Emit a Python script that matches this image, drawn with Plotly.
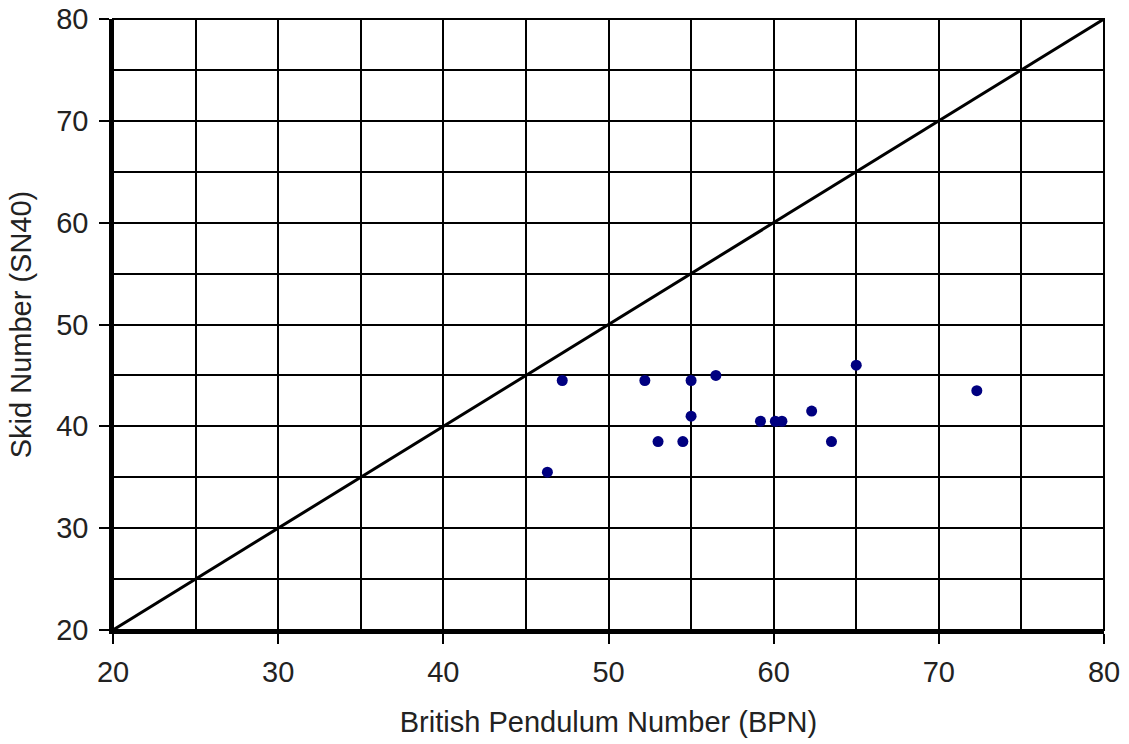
import plotly.graph_objects as go

bpn = [47.2, 52.2, 55.0, 56.5, 65.0, 55.0, 59.2, 60.1, 60.5, 62.3, 53.0, 54.5, 63.5, 46.3, 72.3]
sn40 = [44.5, 44.5, 44.5, 45.0, 46.0, 41.0, 40.5, 40.5, 40.5, 41.5, 38.5, 38.5, 38.5, 35.5, 43.5]
equality_x = [20, 80]
equality_y = [20, 80]
tick_vals = [20, 30, 40, 50, 60, 70, 80]

FONT = "Liberation Sans, Arial, sans-serif"

fig = go.Figure()
fig.add_trace(go.Scatter(x=equality_x, y=equality_y, mode="lines",
                         line=dict(color="black", width=3), showlegend=False,
                         hoverinfo="skip"))
fig.add_trace(go.Scatter(x=bpn, y=sn40, mode="markers",
                         marker=dict(color="#000080", size=11, symbol="circle"),
                         showlegend=False))

axis_common = dict(
    range=[20, 80], tickvals=tick_vals, ticks="outside", ticklen=10, tickwidth=2,
    tickcolor="black", showline=True, linecolor="black", linewidth=3.5,
    showgrid=True, gridcolor="black", gridwidth=2, zeroline=False,
    minor=dict(dtick=5, showgrid=True, gridcolor="black", gridwidth=2, ticks=""),
    tickfont=dict(family=FONT, size=29, color="#222"),
    fixedrange=True, automargin=False, ticklabeloverflow="allow",
)

fig.update_xaxes(**axis_common, ticklabelstandoff=3,
                 title=dict(text="British Pendulum Number (BPN)",
                            font=dict(family=FONT, size=29, color="#222"), standoff=26))
fig.update_yaxes(**axis_common, ticklabelstandoff=5,
                 title=dict(text="Skid Number (SN40)",
                            font=dict(family=FONT, size=29, color="#222"), standoff=17))

fig.add_shape(type="rect", xref="paper", yref="paper", x0=0, y0=0, x1=1, y1=1,
              line=dict(color="black", width=2), layer="above")

fig.update_layout(
    width=1129, height=744,
    margin=dict(l=113, r=25, t=19, b=114),
    plot_bgcolor="white", paper_bgcolor="white",
    font=dict(family=FONT, color="#222"),
)

fig.write_html(
    "out.html",
    config={"displayModeBar": False},
    post_script="document.body.style.margin='0';document.body.style.overflow='hidden';",
)
